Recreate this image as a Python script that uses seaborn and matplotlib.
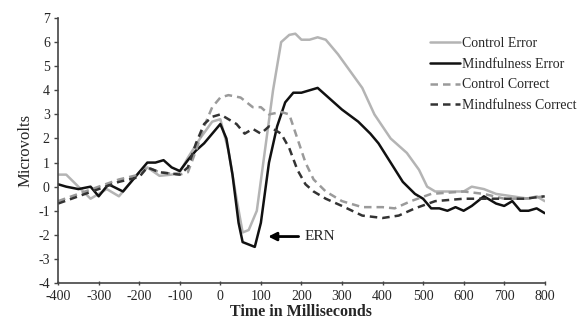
import matplotlib
matplotlib.use("Agg")
import matplotlib.pyplot as plt
from matplotlib import font_manager
import seaborn as sns
import pandas as pd

# ERP waveforms (microvolts) by time from response (ms)
ce_t = [-400, -380, -350, -320, -300, -280, -250, -220, -200, -180, -150, -120, -100, -80, -50, -20, 0, 20, 40, 55, 70,
        90, 110, 130, 150, 170, 185, 200, 220, 240, 260, 290, 320, 350, 380, 420, 460, 490, 510, 530, 560, 600, 620,
        650, 680, 720, 760, 780, 800]
ce_v = [0.5, 0.5, 0.0, -0.5, -0.3, -0.1, -0.4, 0.2, 0.6, 0.8, 0.45, 0.5, 0.6, 1.2, 2.0, 2.7, 2.8, 1.5, -0.5, -1.9, -1.8,
        -1.0, 1.5, 4.0, 6.0, 6.3, 6.35, 6.1, 6.1, 6.2, 6.1, 5.5, 4.8, 4.1, 3.0, 2.0, 1.4, 0.7, 0.0, -0.2, -0.2, -0.2, 0.0,
        -0.1, -0.3, -0.4, -0.5, -0.4, -0.6]

me_t = [-400, -380, -350, -320, -300, -276, -240, -220, -200, -180, -160, -140, -120, -100, -80, -60, -40, -20, 0, 15,
        30, 45, 55, 70, 85, 100, 120, 140, 160, 180, 200, 220, 240, 260, 300, 340, 370, 390, 420, 450, 480, 500, 520,
        540, 560, 580, 600, 620, 650, 680, 700, 720, 740, 760, 780, 800]
me_v = [0.1, 0.0, -0.1, 0.0, -0.4, 0.1, -0.2, 0.2, 0.6, 1.0, 1.0, 1.1, 0.8, 0.65, 1.1, 1.5, 1.8, 2.2, 2.6, 2.0,
        0.5, -1.5, -2.3, -2.4, -2.5, -1.5, 1.0, 2.5, 3.5, 3.9, 3.9, 4.0, 4.1, 3.8, 3.2, 2.7, 2.2, 1.8, 1.0, 0.2, -0.3,
        -0.5, -0.9, -0.9, -1.0, -0.85, -1.0, -0.8, -0.4, -0.7, -0.8, -0.6, -1.0, -1.0, -0.9, -1.1]

cc_t = [-400, -350, -300, -250, -200, -180, -150, -100, -80, -60, -40, -20, 0, 20, 50, 80, 100, 120, 150, 170, 190,
        210, 230, 260, 300, 350, 400, 430, 470, 520, 600, 650, 700, 750, 800]
cc_v = [-0.6, -0.3, 0.0, 0.3, 0.5, 0.8, 0.6, 0.5, 0.6, 1.5, 2.5, 3.3, 3.7, 3.8, 3.7, 3.3, 3.3, 3.0, 3.1, 3.0, 2.0,
        1.0, 0.3, -0.2, -0.6, -0.85, -0.85, -0.9, -0.6, -0.3, -0.2, -0.3, -0.5, -0.5, -0.4]

mc_t = [-400, -350, -300, -250, -200, -180, -150, -100, -80, -60, -40, -20, 0, 20, 40, 60, 80, 100, 120, 150, 170,
        190, 210, 230, 260, 300, 350, 400, 440, 480, 530, 600, 650, 700, 750, 800]
mc_v = [-0.7, -0.4, -0.1, 0.2, 0.4, 0.8, 0.6, 0.5, 0.8, 1.8, 2.6, 2.9, 3.0, 2.8, 2.6, 2.2, 2.4, 2.2, 2.5, 2.2, 1.6,
        0.7, 0.1, -0.2, -0.5, -0.8, -1.2, -1.3, -1.2, -0.9, -0.6, -0.5, -0.5, -0.5, -0.5, -0.4]

series_names = ["Control Error", "Mindfulness Error", "Control Correct", "Mindfulness Correct"]
series_data = [(ce_t, ce_v), (me_t, me_v), (cc_t, cc_v), (mc_t, mc_v)]

x_ticks = list(range(-400, 801, 100))
y_ticks = list(range(-4, 8))

ern_time, ern_value = 118, -2.07

frames = [pd.DataFrame({"time": t, "uv": v, "condition": n}) for n, (t, v) in zip(series_names, series_data)]
df = pd.concat(frames, ignore_index=True)

sns.set_theme(style="ticks")
serif_path = font_manager.findfont(font_manager.FontProperties(family="Liberation Serif"))
serif_name = font_manager.FontProperties(fname=serif_path).get_name()
plt.rcParams["font.family"] = "serif"
plt.rcParams["font.serif"] = [serif_name, "Liberation Serif", "Times New Roman", "DejaVu Serif"]
plt.rcParams["axes.unicode_minus"] = False

fig = plt.figure(figsize=(5.87, 3.22), dpi=100)
ax = fig.add_axes([0.099, 0.121, 0.829, 0.823])

palette = {"Control Error": "#b4b4b4", "Mindfulness Error": "#111111",
           "Control Correct": "#9a9a9a", "Mindfulness Correct": "#333333"}
dashes = {"Control Error": "", "Mindfulness Error": "",
          "Control Correct": (3, 2), "Mindfulness Correct": (3, 2)}

sns.lineplot(data=df, x="time", y="uv", hue="condition", style="condition",
             hue_order=series_names, style_order=series_names,
             palette=palette, dashes=dashes, linewidth=1.8, ax=ax, estimator=None, sort=True)

ax.set_xlim(-400, 800)
ax.set_ylim(-4, 7)
ax.set_xticks(x_ticks)
ax.set_yticks(y_ticks)
ax.tick_params(axis="both", labelsize=10, length=3, width=1, color="#444444")
ax.tick_params(axis="x", direction="inout", pad=3.5)
ax.tick_params(axis="y", pad=3)
for s in ["top", "right"]:
    ax.spines[s].set_visible(False)
for s in ["left", "bottom"]:
    ax.spines[s].set_color("#444444")
    ax.spines[s].set_linewidth(1.2)

ax.set_xlabel("Time in Milliseconds", fontsize=11.5, fontweight="bold", labelpad=1)
ax.set_ylabel("Microvolts", fontsize=12, labelpad=3)

ax.annotate("ERN", xy=(ern_time, ern_value), xytext=(208, ern_value),
            fontsize=11, va="center", ha="left",
            arrowprops=dict(arrowstyle="-|>", color="black", lw=2, mutation_scale=12,
                            shrinkA=2, shrinkB=0))

leg = ax.legend(loc="upper right", bbox_to_anchor=(1.09, 0.975), frameon=False, fontsize=10,
                handlelength=2.2, handletextpad=0.1, labelspacing=0.55)

fig.savefig("out.png", dpi=100)
